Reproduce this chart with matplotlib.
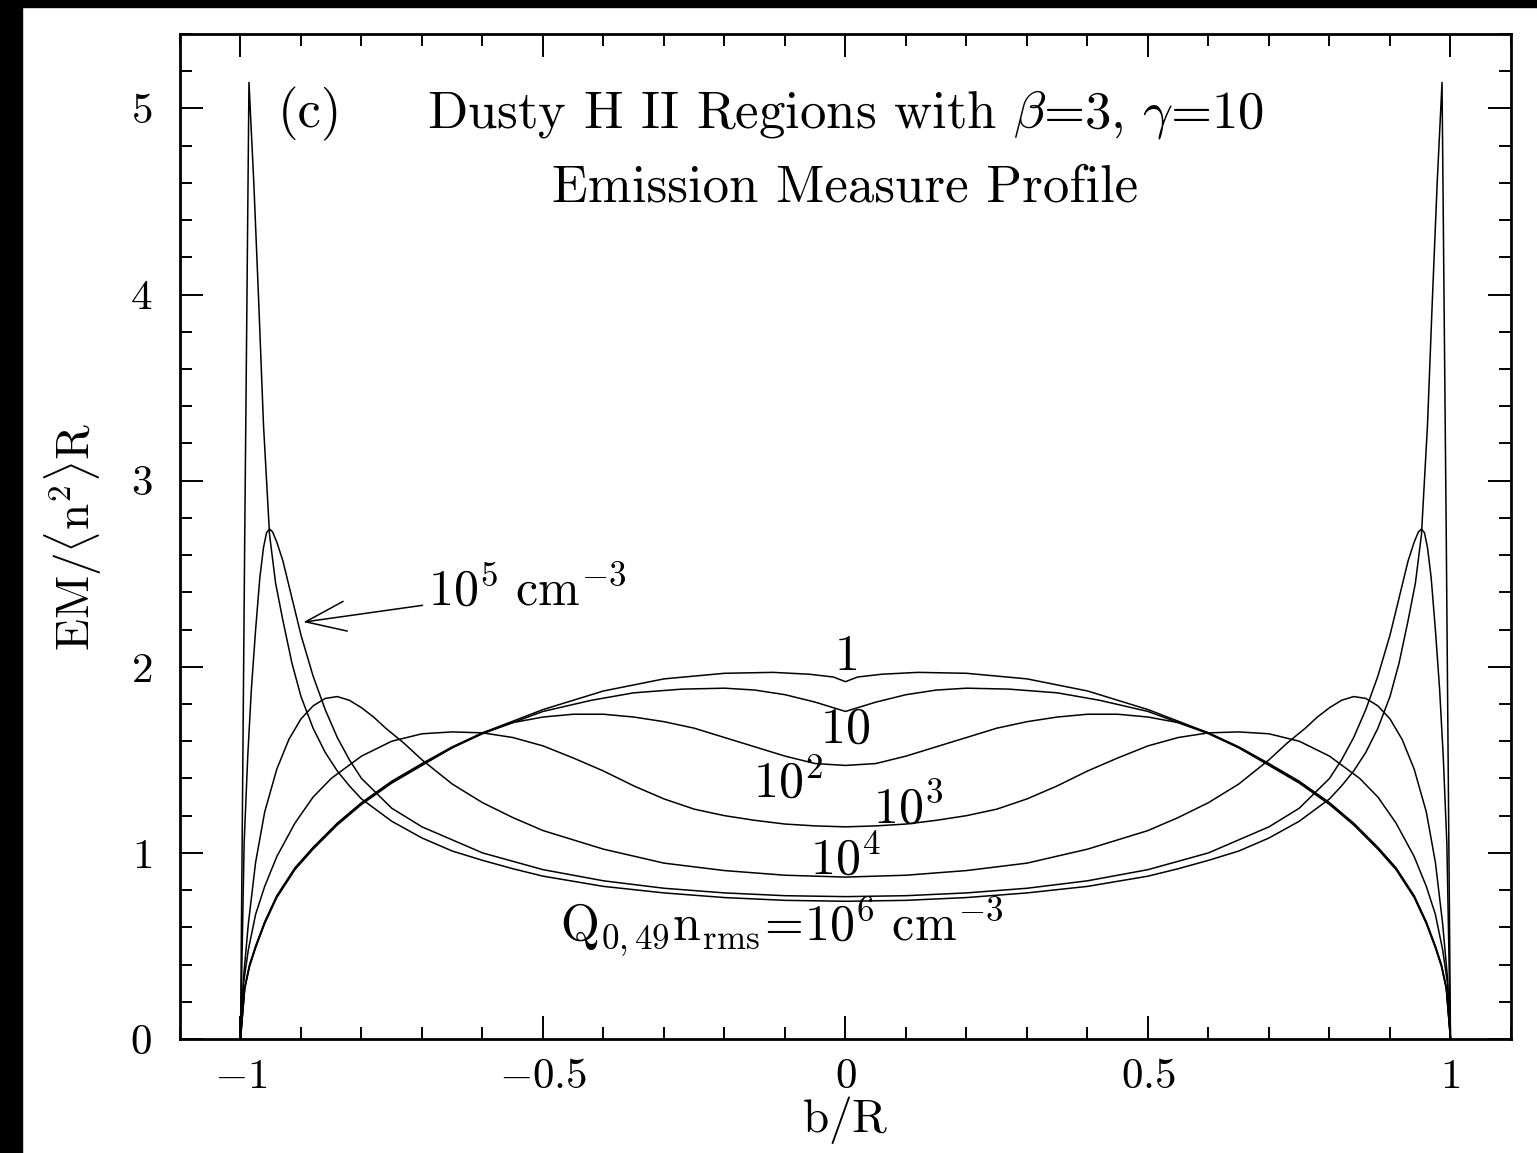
import numpy as np
import matplotlib
matplotlib.use("Agg")
import matplotlib.pyplot as plt
from matplotlib.patches import Rectangle
from matplotlib.ticker import MultipleLocator, FixedLocator

plt.rcParams["font.family"] = "serif"
plt.rcParams["font.serif"] = ["cmr10", "DejaVu Serif"]
plt.rcParams["mathtext.fontset"] = "cm"
plt.rcParams["axes.formatter.use_mathtext"] = True

# half profiles (b/R >= 0); the profiles are symmetric in b
b_1 = [0, 0.02, 0.06, 0.12, 0.2, 0.3, 0.4, 0.5, 0.6, 0.65, 0.7, 0.75, 0.8, 0.84, 0.88, 0.91, 0.94, 0.96, 0.975, 0.985, 0.993, 1.0]
em_1 = [1.92, 1.945, 1.96, 1.97, 1.965, 1.935, 1.87, 1.77, 1.645, 1.57, 1.48, 1.385, 1.27, 1.16, 1.03, 0.92, 0.77, 0.63, 0.50, 0.40, 0.28, 0.0]

b_10 = [0, 0.02, 0.05, 0.1, 0.15, 0.2, 0.27, 0.35, 0.42, 0.5, 0.6, 0.65, 0.7, 0.75, 0.8, 0.84, 0.88, 0.91, 0.94, 0.96, 0.975, 0.985, 0.993, 1.0]
em_10 = [1.76, 1.78, 1.81, 1.85, 1.875, 1.885, 1.88, 1.86, 1.82, 1.76, 1.64, 1.565, 1.475, 1.38, 1.265, 1.155, 1.025, 0.915, 0.765, 0.625, 0.495, 0.395, 0.275, 0.0]

b_1e2 = [0, 0.05, 0.1, 0.15, 0.2, 0.25, 0.3, 0.35, 0.4, 0.45, 0.5, 0.55, 0.6, 0.65, 0.7, 0.75, 0.8, 0.84, 0.88, 0.91, 0.94, 0.96, 0.975, 0.985, 0.993, 1.0]
em_1e2 = [1.47, 1.48, 1.52, 1.57, 1.62, 1.67, 1.705, 1.73, 1.745, 1.745, 1.73, 1.70, 1.645, 1.565, 1.47, 1.375, 1.26, 1.15, 1.02, 0.91, 0.76, 0.62, 0.49, 0.39, 0.27, 0.0]

b_1e3 = [0, 0.05, 0.1, 0.15, 0.2, 0.25, 0.3, 0.35, 0.4, 0.45, 0.5, 0.55, 0.6, 0.65, 0.7, 0.75, 0.8, 0.85, 0.88, 0.91, 0.94, 0.96, 0.975, 0.987, 0.995, 1.0]
em_1e3 = [1.14, 1.145, 1.155, 1.175, 1.20, 1.235, 1.29, 1.36, 1.44, 1.51, 1.575, 1.62, 1.645, 1.65, 1.64, 1.60, 1.52, 1.40, 1.30, 1.16, 0.98, 0.82, 0.67, 0.48, 0.30, 0.0]

b_1e4 = [0, 0.1, 0.2, 0.3, 0.4, 0.5, 0.55, 0.6, 0.65, 0.7, 0.73, 0.76, 0.78, 0.8, 0.82, 0.84, 0.86, 0.88, 0.9, 0.92, 0.94, 0.96, 0.975, 0.987, 0.995, 1.0]
em_1e4 = [0.87, 0.88, 0.905, 0.945, 1.02, 1.12, 1.19, 1.27, 1.37, 1.50, 1.59, 1.67, 1.73, 1.78, 1.82, 1.84, 1.83, 1.79, 1.72, 1.61, 1.45, 1.22, 0.95, 0.62, 0.33, 0.0]

b_1e5 = [0, 0.1, 0.2, 0.3, 0.4, 0.5, 0.55, 0.6, 0.65, 0.7, 0.75, 0.8, 0.82, 0.84, 0.86, 0.88, 0.9, 0.915, 0.93, 0.94, 0.947, 0.952, 0.957, 0.962, 0.968, 0.975, 0.982, 0.988, 0.994, 1.0]
em_1e5 = [0.765, 0.77, 0.785, 0.81, 0.85, 0.91, 0.955, 1.0, 1.07, 1.14, 1.24, 1.40, 1.50, 1.62, 1.77, 1.95, 2.17, 2.37, 2.57, 2.67, 2.725, 2.74, 2.72, 2.64, 2.48, 2.20, 1.88, 1.52, 1.05, 0.0]

b_1e6 = [0, 0.1, 0.2, 0.3, 0.4, 0.5, 0.55, 0.6, 0.65, 0.7, 0.75, 0.8, 0.82, 0.84, 0.86, 0.88, 0.9, 0.915, 0.93, 0.942, 0.952, 0.962, 0.970, 0.978, 0.986, 0.993, 1.0]
em_1e6 = [0.74, 0.745, 0.76, 0.785, 0.82, 0.875, 0.915, 0.96, 1.01, 1.08, 1.17, 1.29, 1.36, 1.44, 1.54, 1.67, 1.84, 2.02, 2.25, 2.45, 2.71, 3.30, 3.97, 4.60, 5.14, 2.70, 0.0]

x_ticks = [-1, -0.5, 0, 0.5, 1]
x_tick_labels = ["$-1$", "$-0.5$", "$0$", "$0.5$", "$1$"]
y_ticks = [0, 1, 2, 3, 4, 5]
y_tick_labels = ["$0$", "$1$", "$2$", "$3$", "$4$", "$5$"]

curves = [(b_1, em_1), (b_10, em_10), (b_1e2, em_1e2), (b_1e3, em_1e3),
          (b_1e4, em_1e4), (b_1e5, em_1e5), (b_1e6, em_1e6)]


def mirror(b, em):
    b = np.asarray(b, dtype=float)
    em = np.asarray(em, dtype=float)
    return np.concatenate([-b[::-1], b[1:]]), np.concatenate([em[::-1], em[1:]])


fig = plt.figure(figsize=(15.37, 11.53), dpi=100)
ax = fig.add_axes([0.11711, 0.09887, 0.86597, 0.87164])

for b, em in curves:
    bb, ee = mirror(b, em)
    ax.plot(bb, ee, color="black", lw=1.1)

ax.set_xlim(-1.1, 1.1)
ax.set_ylim(0, 5.4)
ax.xaxis.set_major_locator(FixedLocator(x_ticks))
ax.set_xticklabels(x_tick_labels)
ax.yaxis.set_major_locator(FixedLocator(y_ticks))
ax.set_yticklabels(y_tick_labels)
ax.xaxis.set_minor_locator(MultipleLocator(0.1))
ax.yaxis.set_minor_locator(MultipleLocator(0.2))
ax.tick_params(which="both", direction="in", top=True, right=True, width=1.4)
ax.tick_params(which="major", length=16.5)
ax.tick_params(which="minor", length=8.5)
ax.tick_params(axis="x", labelsize=31, pad=14)
ax.tick_params(axis="y", labelsize=31, pad=20)
for sp in ax.spines.values():
    sp.set_linewidth(2.0)

fs_title = 38
fs = 36
ax.text(-0.885, 4.90, "(c)", fontsize=fs_title, ha="center", va="baseline")
ax.text(0.0, 4.90, r"Dusty H II Regions with $\beta$=3, $\gamma$=10", fontsize=fs_title, ha="center", va="baseline")
ax.text(0.0, 4.50, "Emission Measure Profile", fontsize=fs_title, ha="center", va="baseline")

ax.text(0.0, 2.05, "$1$", fontsize=fs, ha="center", va="center")
ax.text(0.0, 1.66, "$10$", fontsize=fs, ha="center", va="center")
ax.text(-0.153, 1.295, "$10^2$", fontsize=fs, ha="left", va="baseline")
ax.text(0.045, 1.16, "$10^3$", fontsize=fs, ha="left", va="baseline")
ax.text(0.0, 0.89, "$10^4$", fontsize=fs, ha="center", va="baseline")
ax.text(-0.105, 0.53, r"$\mathrm{Q_{0,49}n_{rms}}\!=\!10^6\ \mathrm{cm^{-3}}$", fontsize=fs, ha="center", va="baseline")

ax.annotate(r"$10^5\ \mathrm{cm^{-3}}$", xy=(-0.896, 2.24), xytext=(-0.69, 2.33),
            fontsize=fs, ha="left", va="baseline",
            arrowprops=dict(arrowstyle="->,head_length=0.8,head_width=0.3", color="black", lw=1.1,
                            shrinkA=2, shrinkB=0))

ax.text(-0.080, 0.50, r"$\mathrm{EM}/\langle\mathrm{n}^2\rangle\mathrm{R}$", fontsize=34,
        rotation=90, ha="center", va="center", transform=ax.transAxes)
ax.text(0.5, -0.081, r"$\mathrm{b/R}$", fontsize=34, ha="center", va="center", transform=ax.transAxes)

# dark strips on the left and top edges of the scan
fig.add_artist(Rectangle((0, 0), 22 / 1537, 1, transform=fig.transFigure, color="black", zorder=10))
fig.add_artist(Rectangle((0, 1 - 7 / 1153), 1, 7 / 1153, transform=fig.transFigure, color="black", zorder=10))

fig.savefig("out.png", dpi=100)
